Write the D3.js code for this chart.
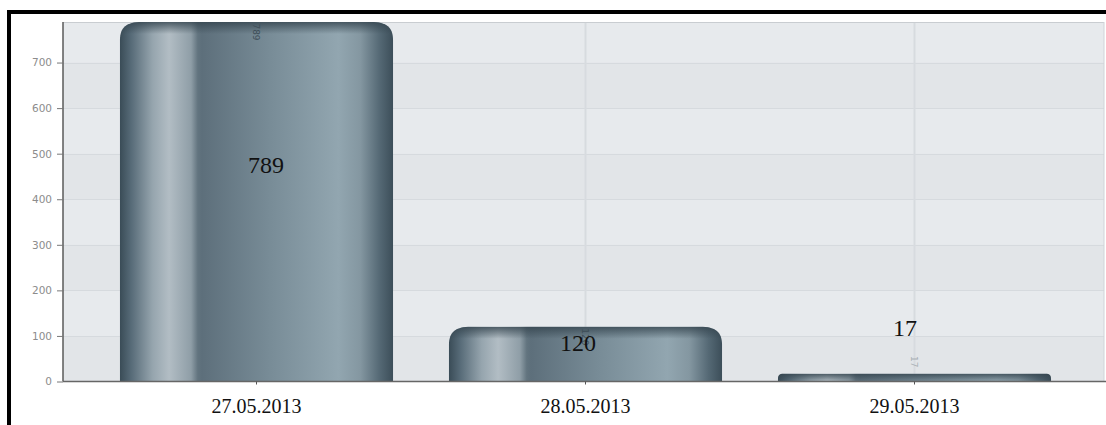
<!DOCTYPE html>
<html>
<head>
<meta charset="utf-8">
<script src="https://cdnjs.cloudflare.com/ajax/libs/d3/7.8.5/d3.min.js"></script>
<style>
  body { margin: 0; background: #fff; }
  svg { display: block; }
</style>
</head>
<body>
<svg id="chart" width="1106" height="425"></svg>
<script>
/* bar chart, three days, cylinder style bars */
var categories = ["27.05.2013", "28.05.2013", "29.05.2013"];
var values = [789, 120, 17];
var yTicks = [0, 100, 200, 300, 400, 500, 600, 700];

var svg = d3.select("#chart");
var plot = {left: 63, right: 1104, top: 22, bottom: 381.5};

var x = d3.scaleBand()
    .domain(categories)
    .range([92, 1079])
    .paddingInner(0.17)
    .paddingOuter(0.085);

var y = d3.scaleLinear()
    .domain([0, 789])
    .range([plot.bottom, plot.top]);

var defs = svg.append("defs");

// horizontal shading of the cylinder
var grad = defs.append("linearGradient")
    .attr("id", "cyl").attr("x1", "0").attr("x2", "1").attr("y1", "0").attr("y2", "0");
[[0, "#3a4c57"], [0.04, "#566a77"], [0.12, "#96a5ae"], [0.18, "#b2bdc4"],
 [0.26, "#8f9ea7"], [0.285, "#62747f"], [0.30, "#5d6f7b"], [0.55, "#788c97"],
 [0.80, "#92a6b0"], [0.88, "#8497a1"], [0.95, "#556975"], [1, "#3c4e59"]]
    .forEach(function(s){
	grad.append("stop").attr("offset", s[0]).attr("stop-color", s[1]);
    });

// dark lip along the top
var lip = defs.append("linearGradient")
    .attr("id", "lip").attr("x1", "0").attr("x2", "0").attr("y1", "0").attr("y2", "1");
lip.append("stop").attr("offset", 0).attr("stop-color", "#34444e").attr("stop-opacity", 0.8);
lip.append("stop").attr("offset", 1).attr("stop-color", "#34444e").attr("stop-opacity", 0);

// plot background bands
svg.append("rect")
    .attr("x", plot.left).attr("y", plot.top)
    .attr("width", plot.right - plot.left).attr("height", plot.bottom - plot.top)
    .attr("fill", "#e7eaed");
yTicks.forEach(function(t){
    if (t % 200 != 0) return;
    var top = Math.max(y(t + 100), plot.top);
    svg.append("rect")
	.attr("x", plot.left).attr("y", top)
	.attr("width", plot.right - plot.left).attr("height", y(t) - top)
	.attr("fill", "#e2e5e8");
});

// grid
svg.append("g").selectAll("line").data(yTicks.slice(1)).join("line")
    .attr("x1", plot.left).attr("x2", plot.right)
    .attr("y1", function(d){ return Math.round(y(d)) + 0.5; })
    .attr("y2", function(d){ return Math.round(y(d)) + 0.5; })
    .attr("stroke", "#d6dade").attr("stroke-width", 1);
svg.append("g").selectAll("line").data(categories).join("line")
    .attr("x1", function(d){ return x(d) + x.bandwidth()/2; })
    .attr("x2", function(d){ return x(d) + x.bandwidth()/2; })
    .attr("y1", plot.top).attr("y2", plot.bottom)
    .attr("stroke", "#d7dbdf").attr("stroke-width", 2);
svg.append("line")
    .attr("x1", plot.left).attr("x2", plot.right)
    .attr("y1", plot.top + 0.5).attr("y2", plot.top + 0.5)
    .attr("stroke", "#c9cdd1");
svg.append("line")
    .attr("x1", plot.right).attr("x2", plot.right)
    .attr("y1", plot.top).attr("y2", plot.bottom)
    .attr("stroke", "#d0d4d8");

// bar outline with rounded top corners
var barPath = function(x0, y0, w, h){
    var r = Math.min(22, h * 0.7);
    var ry = Math.min(18, h * 0.7);
    return "M " + x0 + " " + (y0 + h) +
	" L " + x0 + " " + (y0 + ry) +
	" C " + x0 + " " + (y0 + ry*0.3) + " " + (x0 + r*0.3) + " " + y0 + " " + (x0 + r) + " " + y0 +
	" L " + (x0 + w - r) + " " + y0 +
	" C " + (x0 + w - r*0.3) + " " + y0 + " " + (x0 + w) + " " + (y0 + ry*0.3) + " " + (x0 + w) + " " + (y0 + ry) +
	" L " + (x0 + w) + " " + (y0 + h) + " Z";
};

values.forEach(function(d, i){
    defs.append("clipPath").attr("id", "clip" + i)
	.append("path")
	.attr("d", barPath(x(categories[i]), y(d), x.bandwidth(), plot.bottom - y(d)));
});

var bars = svg.append("g").selectAll("g").data(values).join("g");
bars.append("path")
    .attr("d", function(d, i){
	return barPath(x(categories[i]), y(d), x.bandwidth(), plot.bottom - y(d));
    })
    .attr("fill", "url(#cyl)");
bars.append("rect")
    .attr("clip-path", function(d, i){ return "url(#clip" + i + ")"; })
    .attr("x", function(d, i){ return x(categories[i]); })
    .attr("y", function(d){ return y(d); })
    .attr("width", x.bandwidth())
    .attr("height", function(d){ return Math.min(12, plot.bottom - y(d)); })
    .attr("fill", "url(#lip)");

// small rotated labels drawn by the original chart
bars.append("text")
    .attr("transform", function(d, i){
	var cx = x(categories[i]) + x.bandwidth()/2;
	var cy = d > 100 ? y(d) + 10 : y(d) - 12;
	return "translate(" + cx + "," + cy + ") rotate(90)";
    })
    .attr("text-anchor", "middle")
    .attr("dy", "0.35em")
    .attr("font-family", "DejaVu Sans, sans-serif")
    .attr("font-size", 9)
    .attr("fill", function(d){ return d > 100 ? "#3d4d57" : "#a9b0b5"; })
    .text(function(d){ return d; });

// big value labels
var labelY = [165, 343, 328];
var labelX = [266, 578, 905];
svg.append("g").selectAll("text").data(values).join("text")
    .attr("x", function(d, i){ return labelX[i]; })
    .attr("y", function(d, i){ return labelY[i]; })
    .attr("dy", "0.35em")
    .attr("text-anchor", "middle")
    .attr("font-family", "Liberation Serif, Times New Roman, serif")
    .attr("font-size", 24)
    .attr("fill", "#111")
    .text(function(d){ return d; });

// y axis
var yAxis = svg.append("g")
    .attr("transform", "translate(" + plot.left + ",0)")
    .call(d3.axisLeft(y).tickValues(yTicks).tickSize(6).tickPadding(5));
yAxis.select(".domain").attr("stroke", "#5a5a5a").attr("stroke-width", 1.5)
    .attr("d", "M0," + plot.top + "V" + plot.bottom);
yAxis.selectAll(".tick line").attr("stroke", "#777");
yAxis.selectAll(".tick text")
    .attr("font-family", "DejaVu Sans, sans-serif")
    .attr("font-size", 10.5)
    .attr("fill", "#8c8c8c");

// x axis
var xAxis = svg.append("g")
    .attr("transform", "translate(0," + plot.bottom + ")")
    .call(d3.axisBottom(x).tickSize(3).tickPadding(14));
xAxis.select(".domain").attr("stroke", "#666").attr("stroke-width", 1.5)
    .attr("d", "M" + plot.left + ",0H" + (plot.right + 2));
xAxis.selectAll(".tick line").attr("stroke", "#555");
xAxis.selectAll(".tick text")
    .attr("font-family", "Liberation Serif, Times New Roman, serif")
    .attr("font-size", 20)
    .attr("fill", "#111");

// black frame, top and left
svg.append("rect").attr("x", 7).attr("y", 10).attr("width", 1099).attr("height", 4).attr("fill", "#000");
svg.append("rect").attr("x", 7).attr("y", 10).attr("width", 4).attr("height", 415).attr("fill", "#000");
</script>
</body>
</html>
